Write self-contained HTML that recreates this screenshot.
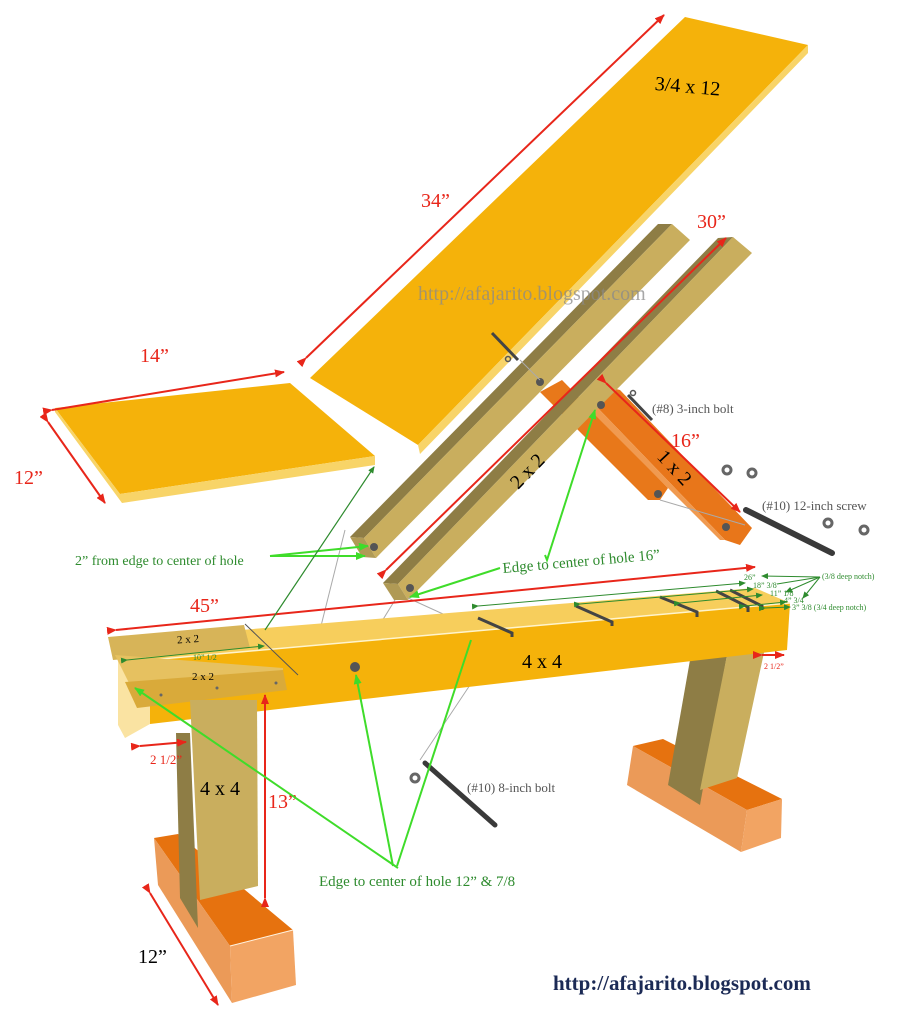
<!DOCTYPE html>
<html><head><meta charset="utf-8"><style>
html,body{margin:0;padding:0;background:#fff}
svg{display:block}
text{font-family:"Liberation Serif",serif}
</style></head><body>
<svg width="906" height="1024" viewBox="0 0 906 1024" xmlns="http://www.w3.org/2000/svg">
<defs>
<marker id="ar" markerWidth="10" markerHeight="8" refX="9" refY="4" orient="auto" markerUnits="userSpaceOnUse"><path d="M0,0 L10,4 L0,8 z" fill="#e8261a"/></marker>
<marker id="ag" markerWidth="10" markerHeight="8" refX="9" refY="4" orient="auto" markerUnits="userSpaceOnUse"><path d="M0,0 L10,4 L0,8 z" fill="#3fdc2a"/></marker>
<marker id="ad" markerWidth="7" markerHeight="6" refX="6" refY="3" orient="auto" markerUnits="userSpaceOnUse"><path d="M0,0 L7,3 L0,6 z" fill="#2e8b2e"/></marker>
</defs>

<!-- back board -->
<polygon points="310,378 685,17 808,45 418,445" fill="#f5b20a"/>
<polygon points="418,445 808,45 808,53 420,454" fill="#f8d468"/>
<text x="655" y="93" font-size="20" transform="rotate(5 690 85)">3/4 x 12</text>

<!-- seat board -->
<polygon points="55,408 290,383 375,456 120,494" fill="#f5b20a"/>
<polygon points="120,494 375,456 375,465 122,503 55,412 55,408" fill="#f8d468"/>

<!-- red dims top -->
<line x1="306" y1="358" x2="664" y2="15" stroke="#e8261a" stroke-width="2" marker-start="url(#ar)" marker-end="url(#ar)"/>
<text x="421" y="207" font-size="20" fill="#e8261a">34”</text>
<line x1="52" y1="410" x2="284" y2="372" stroke="#e8261a" stroke-width="2" marker-start="url(#ar)" marker-end="url(#ar)"/>
<text x="140" y="362" font-size="20" fill="#e8261a">14”</text>
<line x1="48" y1="422" x2="105" y2="503" stroke="#e8261a" stroke-width="2" marker-start="url(#ar)" marker-end="url(#ar)"/>
<text x="14" y="484" font-size="20" fill="#e8261a">12”</text>

<!-- 1x2 pieces -->
<polygon points="540,392 562,380 668,488 660,500 648,500" fill="#e8781a"/>
<polygon points="600,385 620,390 752,528 740,545 725,540 592,402" fill="#e8761a"/>
<polygon points="592,402 725,540 720,540 585,405" fill="#f09a50"/>
<text x="655" y="470" font-size="20" transform="rotate(47 670 465)">1 x 2</text>

<!-- rail 1 -->
<polygon points="350,537 658,224 672,224 364,538" fill="#8e7d45"/>
<polygon points="364,538 672,224 690,240 376,558" fill="#c9ae5e"/>
<polygon points="350,537 364,538 376,558 362,557" fill="#b09a55"/>
<!-- rail 2 -->
<polygon points="383,583 718,238 733,237 398,584" fill="#8e7d45"/>
<polygon points="398,584 733,237 752,253 408,600" fill="#c9ae5e"/>
<polygon points="383,583 398,584 408,600 394,600" fill="#b09a55"/>
<text x="510" y="485" font-size="20" transform="rotate(-46 520 478)">2 x 2</text>

<text x="418" y="300" font-size="20" fill="#8a8a8a" opacity="0.75">http://afajarito.blogspot.com</text>

<!-- holes on rails/pieces -->
<g fill="#555">
<circle cx="540" cy="382" r="4"/><circle cx="601" cy="405" r="4"/><circle cx="658" cy="494" r="4"/>
<circle cx="726" cy="527" r="4"/><circle cx="374" cy="547" r="4"/><circle cx="410" cy="588" r="4"/>
</g>

<!-- bolts -->
<line x1="492" y1="333" x2="518" y2="360" stroke="#444" stroke-width="3"/>
<circle cx="508" cy="359" r="2.5" fill="none" stroke="#555" stroke-width="1.5"/>
<line x1="628" y1="395" x2="652" y2="420" stroke="#444" stroke-width="3"/>
<circle cx="633" cy="393" r="2.5" fill="none" stroke="#555" stroke-width="1.5"/>
<text x="652" y="413" font-size="13" fill="#555">(#8) 3-inch bolt</text>
<line x1="746" y1="510" x2="832" y2="553" stroke="#3a3a3a" stroke-width="6" stroke-linecap="round"/>
<g fill="none" stroke="#666" stroke-width="3"><circle cx="727" cy="470" r="4"/><circle cx="752" cy="473" r="4"/><circle cx="828" cy="523" r="4"/><circle cx="864" cy="530" r="4"/><circle cx="415" cy="778" r="4"/></g>
<text x="762" y="510" font-size="13" fill="#555">(#10) 12-inch screw</text>
<line x1="425" y1="763" x2="495" y2="825" stroke="#3a3a3a" stroke-width="5" stroke-linecap="round"/>
<text x="467" y="792" font-size="13" fill="#555">(#10) 8-inch bolt</text>

<!-- red dims middle -->
<line x1="386" y1="570" x2="726" y2="238" stroke="#e8261a" stroke-width="2" marker-start="url(#ar)" marker-end="url(#ar)"/>
<text x="697" y="228" font-size="20" fill="#e8261a">30”</text>
<line x1="606" y1="383" x2="740" y2="512" stroke="#e8261a" stroke-width="2" marker-start="url(#ar)" marker-end="url(#ar)"/>
<text x="671" y="447" font-size="20" fill="#e8261a">16”</text>

<!-- gray construction lines -->
<g stroke="#aaa" stroke-width="1" fill="none">
<polyline points="345,530 320,630 355,665 395,600"/>
<polyline points="408,598 500,640 420,760"/>
<line x1="660" y1="500" x2="745" y2="525"/>
<line x1="520" y1="360" x2="540" y2="380"/>
</g>

<!-- right foot -->
<polygon points="633,746 663,739 782,799 747,810" fill="#e6720f"/>
<polygon points="633,746 747,810 741,852 627,785" fill="#eb9a58"/>
<polygon points="747,810 782,799 781,838 741,852" fill="#f2a463"/>
<!-- right leg -->
<polygon points="690,660 727,655 700,805 668,785" fill="#8e7d45"/>
<polygon points="727,655 765,648 737,778 700,790" fill="#c9ae5e"/>

<!-- beam -->
<polygon points="118,640 755,588 790,603 150,660" fill="#f7ce5c"/>
<polygon points="150,660 790,603 787,650 150,724" fill="#f5b20a"/>
<polygon points="118,640 150,660 150,724 125,738 118,725" fill="#fae3a2"/>
<line x1="150" y1="660" x2="790" y2="603" stroke="#fff4cc" stroke-width="1.5"/>
<text x="522" y="668" font-size="20">4 x 4</text>
<!-- notches -->
<g stroke="#444" stroke-width="3" fill="none">
<polyline points="478,618 512,633 512,637"/>
<polyline points="576,606 612,622 612,626"/>
<polyline points="660,597 697,612 697,617"/>
<polyline points="716,591 748,607 748,612"/>
<polyline points="730,590 762,606 762,610"/>
</g>
<circle cx="355" cy="667" r="5" fill="#555"/>

<!-- left 2x2 pieces -->
<polygon points="108,637 244,625 250,648 113,660" fill="#d7b458"/>
<text x="177" y="643" font-size="11" transform="rotate(-4 185 640)">2 x 2</text>
<polygon points="115,655 283,668 283,672 130,685" fill="#e6c160"/>
<polygon points="125,682 283,670 287,690 137,708" fill="#d9aa3a"/>
<text x="192" y="680" font-size="11">2 x 2</text>
<g fill="#666"><circle cx="161" cy="695" r="1.5"/><circle cx="217" cy="688" r="1.5"/><circle cx="276" cy="683" r="1.5"/></g>
<line x1="127" y1="660" x2="264" y2="646" stroke="#2e8b2e" stroke-width="1" marker-start="url(#ad)" marker-end="url(#ad)"/>
<text x="193" y="660" font-size="8" fill="#2e8b2e">10” 1/2</text>
<line x1="245" y1="624" x2="298" y2="675" stroke="#555" stroke-width="1"/>

<!-- left foot -->
<polygon points="154,838 178,834 293,930 230,946" fill="#e6720f"/>
<polygon points="154,838 230,946 232,1003 158,885" fill="#eb9a58"/>
<polygon points="230,946 293,930 296,985 232,1003" fill="#f2a463"/>
<line x1="230" y1="946" x2="293" y2="930" stroke="#fff3e0" stroke-width="1"/>
<!-- left leg -->
<polygon points="176,733 190,733 198,928 180,898" fill="#8e7d45"/>
<polygon points="190,700 257,700 258,886 200,900" fill="#c9ae5e"/>
<text x="200" y="795" font-size="20">4 x 4</text>

<!-- red dims lower -->
<line x1="116" y1="630" x2="755" y2="567" stroke="#e8261a" stroke-width="2" marker-start="url(#ar)" marker-end="url(#ar)"/>
<text x="190" y="612" font-size="20" fill="#e8261a">45”</text>
<line x1="265" y1="898" x2="265" y2="695" stroke="#e8261a" stroke-width="2" marker-start="url(#ar)" marker-end="url(#ar)"/>
<text x="268" y="808" font-size="20" fill="#e8261a">13”</text>
<line x1="150" y1="893" x2="218" y2="1005" stroke="#e8261a" stroke-width="2" marker-start="url(#ar)" marker-end="url(#ar)"/>
<text x="138" y="963" font-size="20">12”</text>
<line x1="140" y1="746" x2="186" y2="742" stroke="#e8261a" stroke-width="2" marker-start="url(#ar)" marker-end="url(#ar)"/>
<text x="150" y="764" font-size="13" fill="#e8261a">2 1/2”</text>
<line x1="762" y1="655" x2="784" y2="655" stroke="#e8261a" stroke-width="2" marker-start="url(#ar)" marker-end="url(#ar)"/>
<text x="764" y="669" font-size="8" fill="#e8261a">2 1/2”</text>

<!-- green small dims right -->
<g stroke="#2e8b2e" stroke-width="1">
<line x1="478" y1="606" x2="745" y2="583" marker-start="url(#ad)" marker-end="url(#ad)"/>
<line x1="580" y1="604" x2="753" y2="589" marker-start="url(#ad)" marker-end="url(#ad)"/>
<line x1="680" y1="603" x2="762" y2="595" marker-start="url(#ad)" marker-end="url(#ad)"/>
<line x1="745" y1="606" x2="786" y2="602" marker-start="url(#ad)" marker-end="url(#ad)"/>
<line x1="765" y1="608" x2="790" y2="607" marker-start="url(#ad)" marker-end="url(#ad)"/>
<line x1="820" y1="577" x2="762" y2="576" marker-end="url(#ad)"/>
<line x1="820" y1="577" x2="777" y2="584"/>
<line x1="820" y1="577" x2="786" y2="592" marker-end="url(#ad)"/>
<line x1="820" y1="577" x2="803" y2="598" marker-end="url(#ad)"/>
</g>
<g font-size="8" fill="#2e8b2e">
<text x="744" y="580">26”</text><text x="753" y="588">18” 3/8</text><text x="770" y="596">11” 1/8</text>
<text x="784" y="603">4” 3/4</text><text x="792" y="610">3” 3/8 (3/4 deep notch)</text>
<text x="822" y="579">(3/8 deep notch)</text>
</g>

<!-- green callouts -->
<g stroke="#3fdc2a" stroke-width="2" fill="none">
<line x1="270" y1="556" x2="368" y2="546" marker-end="url(#ag)"/>
<line x1="270" y1="556" x2="365" y2="556" marker-end="url(#ag)"/>
<polyline points="500,568 410,597" marker-end="url(#ag)"/>
<polyline points="545,555 547,560 595,410" marker-end="url(#ag)"/>
<line x1="398" y1="868" x2="135" y2="688" marker-end="url(#ag)"/>
<line x1="393" y1="866" x2="356" y2="675" marker-end="url(#ag)"/>
<line x1="397" y1="866" x2="471" y2="640"/>
</g>
<line x1="265" y1="630" x2="374" y2="467" stroke="#2e8b2e" stroke-width="1.2" marker-end="url(#ad)"/>
<text x="75" y="565" font-size="14" fill="#2e8b2e">2” from edge to center of hole</text>
<text x="503" y="573" font-size="15" fill="#2e8b2e" transform="rotate(-5 503 573)">Edge to center of hole 16”</text>
<text x="319" y="886" font-size="15" fill="#2e8b2e">Edge to center of hole 12” &amp; 7/8</text>

<text x="553" y="990" font-size="21" font-weight="bold" fill="#1b2a55">http://afajarito.blogspot.com</text>
</svg>
</body></html>
